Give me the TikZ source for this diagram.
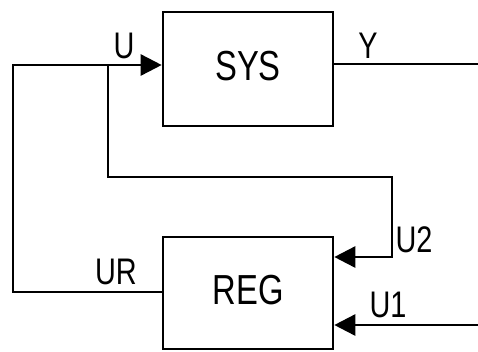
\documentclass[tikz,border=0pt]{standalone}
\usepackage{fontspec}
\setmainfont{Liberation Sans}
\usetikzlibrary{arrows.meta}
% narrow lettering for all texts
\newcommand{\narrowtext}[1]{\scalebox{0.78}[1]{#1}}
\begin{document}
\begin{tikzpicture}[x=1pt, y=-1pt, line width=2.6pt,
  blockbox/.style={draw, rectangle, inner sep=0pt, minimum width=170pt,
    text height=30pt, text depth=8pt, font=\fontsize{42}{42}\selectfont},
  sig/.style={inner sep=0pt, font=\fontsize{37}{37}\selectfont},
  flow/.style={-{Triangle[length=21pt, width=21pt]}},
]
\useasboundingbox (0,0) rectangle (478,351);

% blocks
\node[blockbox, minimum height=114pt] (sys) at (248,69) {\narrowtext{SYS}};
\node[blockbox, minimum height=112pt] (reg) at (248,293) {\narrowtext{REG}};

% bend points of the signal lines
\coordinate (fbtop) at (13,65);
\coordinate (fbbot) at (13,292);
\coordinate (uj) at (108,65);
\coordinate (brdown) at (108,177);
\coordinate (brright) at (392,177);
\coordinate (brlow) at (392,257);
\coordinate (yend) at (478,64);
\coordinate (u1start) at (478,325);

% controller output fed back to the system input
\draw[flow] (reg.west |- fbbot) -- (fbbot) -- (fbtop) -- (sys.west |- fbtop);
% branch of U into the controller
\draw[flow] (uj) -- (brdown) -- (brright) -- (brlow) -- (reg.east |- brlow);
% system output
\draw (sys.east |- yend) -- (yend);
% external input U1
\draw[flow] (u1start) -- (reg.east |- u1start);

% signal labels
\node[sig] (lu) at (124,46) {\narrowtext{U}};
\node[sig] (ly) at (368,46) {\narrowtext{Y}};
\node[sig] (lur) at (116,272) {\narrowtext{UR}};
\node[sig] (lu2) at (414,240) {\narrowtext{U2}};
\node[sig] (lu1) at (388,305) {\narrowtext{U1}};
\end{tikzpicture}
\end{document}
